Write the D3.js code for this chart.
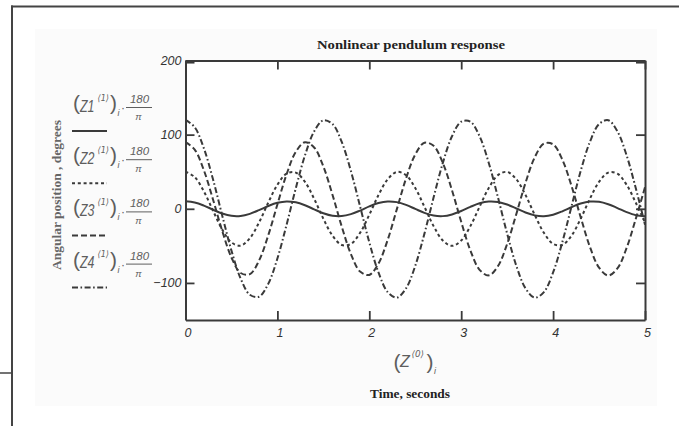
<!DOCTYPE html>
<html>
<head>
<meta charset="utf-8">
<script src="https://cdn.jsdelivr.net/npm/d3@7/dist/d3.min.js"></script>
<style>
  html, body { margin: 0; padding: 0; background: #fff; }
  svg { display: block; }
</style>
</head>
<body>
<svg id="chart" width="679" height="426"></svg>
<script>
// ---------------- data ----------------
const time = [0,0.1,0.2,0.3,0.4,0.5,0.6,0.7,0.8,0.9,1.0,1.1,1.2,1.3,1.4,1.5,1.6,1.7,1.8,1.9,2.0,2.1,2.2,2.3,2.4,2.5,2.6,2.7,2.8,2.9,3.0,3.1,3.2,3.3,3.4,3.5,3.6,3.7,3.8,3.9,4.0,4.1,4.2,4.3,4.4,4.5,4.6,4.7,4.8,4.9,5.0];
const z1 = [10,8.44,4.25,-1.27,-6.39,-9.52,-9.68,-6.82,-1.83,3.73,8.12,9.98,8.73,4.75,-0.71,-5.95,-9.33,-9.80,-7.22,-2.38,3.20,7.78,9.94,8.99,5.24,-0.14,-5.48,-9.11,-9.90,-7.60,-2.93,2.66,7.41,9.86,9.23,5.72,0.42,-5.00,-8.87,-9.96,-7.95,-3.47,2.11,7.02,9.75,9.43,6.17,0.99,-4.50,-8.59,-10.00];
const z2 = [50,42.8,23.4,-2.7,-28.1,-45.4,-49.7,-39.8,-18.5,8.1,32.4,47.4,48.8,36.3,13.4,-13.4,-36.3,-48.8,-47.4,-32.4,-8.1,18.5,39.8,49.7,45.4,28.1,2.7,-23.4,-42.8,-50,-42.8,-23.4,2.7,28.1,45.4,49.7,39.8,18.5,-8.1,-32.4,-47.4,-48.8,-36.3,-13.4,13.4,36.3,48.8,47.4,32.4,8.1,-18.5];
const z3 = [90.0,79.9,51.9,12.3,-30.0,-65.7,-86.6,-88.2,-69.9,-36.0,5.9,46.5,76.8,89.8,82.7,57.1,18.7,-23.9,-61.1,-84.7,-89.2,-73.8,-41.9,-0.5,40.9,73.2,89.1,85.0,61.9,24.9,-17.6,-56.2,-82.3,-89.8,-77.3,-47.4,-7.0,35.1,69.3,87.9,86.9,66.4,31.0,-11.3,-51.1,-79.4,-90.0,-80.4,-52.8,-13.4,29.1];
const z4 = [120,110.0,81.5,39.4,-9.3,-56.4,-94.1,-116.0,-118.6,-101.3,-67.0,-21.5,27.6,72.0,104.4,119.4,114.3,90.1,50.9,3.1,-45.2,-85.9,-112.3,-119.8,-107.3,-76.9,-33.5,15.4,61.8,97.8,117.5,117.5,97.8,61.8,15.4,-33.5,-76.9,-107.3,-119.8,-112.3,-85.9,-45.2,3.1,50.9,90.1,114.3,119.4,104.4,72.0,27.6,-21.5];
const seriesNames = ["Z1","Z2","Z3","Z4"];
const xTicks = [0,1,2,3,4,5];
const yTicks = [200,100,0,-100];
const xDomain = [0,5];
const yDomain = [-150,200];
const titleText = "Nonlinear pendulum response";
const xTitle = "Time, seconds";
const yTitle = "Angular position , degrees";

// ---------------- layout / styles ----------------
const svg = d3.select("#chart");
const L = 185.5, R = 645, T = 60.5, B = 320;
const ink = "#3a3a3a";
const soft = "#5e5e5e";
const dashes = [null, "3,2.8", "6,3", "6,2.5,1.6,2.5"];

const x = d3.scaleLinear().domain(xDomain).range([L, R]);
const y = d3.scaleLinear().domain(yDomain).range([B, T]);

// outer frame & faint panel
svg.append("rect").attr("x",35).attr("y",29).attr("width",622).attr("height",377).attr("fill","#fbfbfb");
svg.append("line").attr("x1",12).attr("x2",12).attr("y1",5.5).attr("y2",426).attr("stroke","#444").attr("stroke-width",2);
svg.append("line").attr("x1",11).attr("x2",679).attr("y1",6.5).attr("y2",6.5).attr("stroke","#444").attr("stroke-width",2);
svg.append("line").attr("x1",0).attr("x2",12).attr("y1",373).attr("y2",373).attr("stroke","#444").attr("stroke-width",1.5);

// plot area
svg.append("rect").attr("x",L).attr("y",T).attr("width",R-L).attr("height",B-T).attr("fill","#fff");

svg.append("defs").append("clipPath").attr("id","clip")
  .append("rect").attr("x",L).attr("y",T-2).attr("width",R-L).attr("height",B-T+4);

// curves
const seriesData = [z1, z2, z3, z4];
const line = d3.line()
  .x((d,i) => x(time[i]))
  .y(d => y(d))
  .curve(d3.curveCatmullRom.alpha(0.5));
const gLines = svg.append("g").attr("clip-path","url(#clip)");
seriesData.forEach((s, k) => {
  gLines.append("path")
    .datum(s)
    .attr("d", line)
    .attr("fill","none")
    .attr("stroke", ink)
    .attr("stroke-width", 2)
    .attr("stroke-dasharray", dashes[k]);
});

// axes
function styleAxis(g) {
  g.select(".domain").attr("stroke", ink).attr("stroke-width", 2);
  g.selectAll(".tick line").attr("stroke", ink).attr("stroke-width", 1.8);
  g.selectAll(".tick text")
    .attr("fill", "#333")
    .attr("font-family", "Liberation Sans, Arial, sans-serif")
    .attr("font-style", "italic")
    .attr("font-size", "12.5px");
}
svg.append("g").attr("transform", `translate(0,${B})`)
  .call(d3.axisBottom(x).tickValues(xTicks).tickSizeInner(-9).tickSizeOuter(0).tickPadding(8).tickFormat(d3.format("d")))
  .call(styleAxis)
  .call(g => g.selectAll(".tick text").attr("dx", "2px"));
svg.append("g").attr("transform", `translate(0,${T})`)
  .call(d3.axisTop(x).tickValues(xTicks).tickSizeInner(-9).tickSizeOuter(0).tickFormat(""))
  .call(styleAxis);
svg.append("g").attr("transform", `translate(${L},0)`)
  .call(d3.axisLeft(y).tickValues(yTicks).tickSizeInner(-9).tickSizeOuter(0).tickPadding(4).tickFormat(d3.format("d")))
  .call(styleAxis)
  .call(g => g.selectAll(".tick line").filter(d => d === 200).attr("stroke-width", 3.5).attr("transform","translate(0,0.8)"));
svg.append("g").attr("transform", `translate(${R},0)`)
  .call(d3.axisRight(y).tickValues(yTicks).tickSizeInner(-9).tickSizeOuter(0).tickFormat(""))
  .call(styleAxis)
  .call(g => g.selectAll(".tick line").filter(d => d === 200).attr("stroke-width", 3.5).attr("transform","translate(0,0.8)"));

// title
svg.append("text")
  .attr("x", 411).attr("y", 49)
  .attr("text-anchor","middle")
  .attr("font-family","Liberation Serif, Times New Roman, serif")
  .attr("font-weight","bold")
  .attr("font-size","13.5px")
  .attr("fill","#222")
  .attr("textLength", 188).attr("lengthAdjust","spacingAndGlyphs")
  .text(titleText);

// x math label (Z<0>)_i
const xm = svg.append("g").attr("fill", soft).attr("font-family","Liberation Sans, Arial, sans-serif");
xm.append("text").attr("x",393.5).attr("y",368.5).attr("font-size","21px").text("(");
xm.append("text").attr("x",400).attr("y",367).attr("font-size","16px").attr("font-style","italic").text("Z");
xm.append("text").attr("x",411.5).attr("y",357).attr("font-size","9px").attr("font-family","DejaVu Sans, sans-serif").attr("font-style","italic")
  .attr("textLength",12.5).attr("lengthAdjust","spacingAndGlyphs").text("⟨0⟩");
xm.append("text").attr("x",426.5).attr("y",368.5).attr("font-size","21px").text(")");
xm.append("text").attr("x",434).attr("y",374).attr("font-size","9px").attr("font-style","italic").text("i");

// x title
svg.append("text")
  .attr("x", 410).attr("y", 398)
  .attr("text-anchor","middle")
  .attr("font-family","Liberation Serif, Times New Roman, serif")
  .attr("font-weight","bold")
  .attr("font-size","13px")
  .attr("fill","#222")
  .attr("textLength", 80).attr("lengthAdjust","spacingAndGlyphs")
  .text(xTitle);

// y title
svg.append("text")
  .attr("transform","translate(57,195) rotate(-90)")
  .attr("text-anchor","middle")
  .attr("dy","0.35em")
  .attr("font-family","Liberation Serif, Times New Roman, serif")
  .attr("font-weight","bold")
  .attr("font-size","12.5px")
  .attr("fill","#666")
  .attr("textLength", 150).attr("lengthAdjust","spacingAndGlyphs")
  .text(yTitle);

// legend
const step = 52.2;
seriesNames.forEach((name, k) => {
  const g = svg.append("g").attr("transform", `translate(0,${k*step})`)
    .attr("fill", soft).attr("font-family","Liberation Sans, Arial, sans-serif");
  g.append("text").attr("x",73).attr("y",110).attr("font-size","21px").text("(");
  g.append("text").attr("x",80).attr("y",111.5).attr("font-size","16px").attr("font-style","italic")
    .attr("textLength",14.5).attr("lengthAdjust","spacingAndGlyphs").text(name);
  g.append("text").attr("x",97.5).attr("y",100.5).attr("font-size","9px").attr("font-family","DejaVu Sans, sans-serif").attr("font-style","italic")
    .attr("textLength",11.5).attr("lengthAdjust","spacingAndGlyphs").text("⟨1⟩");
  g.append("text").attr("x",110).attr("y",110).attr("font-size","21px").text(")");
  g.append("text").attr("x",117.5).attr("y",116).attr("font-size","9px").attr("font-style","italic").text("i");
  g.append("text").attr("x",121).attr("y",112).attr("font-size","12px").text("·");
  g.append("text").attr("x",139.5).attr("y",103).attr("text-anchor","middle").attr("font-size","11.5px").attr("font-style","italic").text("180");
  g.append("line").attr("x1",126).attr("x2",152).attr("y1",107.5).attr("y2",107.5).attr("stroke",soft).attr("stroke-width",1);
  g.append("text").attr("x",138.5).attr("y",120).attr("text-anchor","middle").attr("font-size","9.5px").attr("font-style","italic").text("π");
  g.append("line").attr("x1",72).attr("x2",107).attr("y1",131).attr("y2",131)
    .attr("stroke", ink).attr("stroke-width", 2).attr("stroke-dasharray", dashes[k]);
});
</script>
</body>
</html>
